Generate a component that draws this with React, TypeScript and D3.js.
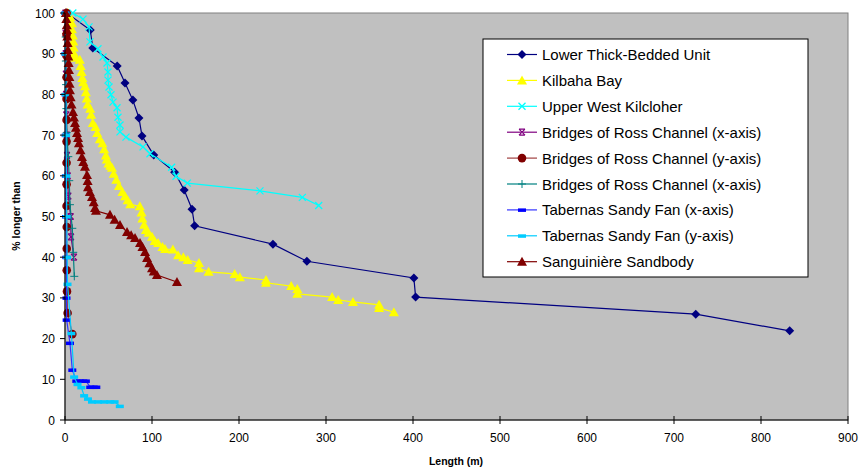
import * as d3 from 'd3';

type Pt = [number, number];

// values (length m, % longer than)
const lowerThick: Pt[] = [[2,100],[29,95.8],[32,91.4],[60,87],[69,82.8],[78,78.6],[85,74.2],[88.5,69.8],[102,65.1],[126,60.9],[137,56.5],[146,51.8],[149,47.7],[239,43.2],[278,39],[401,34.9],[403,30.2],[725,26],[833,21.9]];

const kilbaha: Pt[] = [[3,100],[6,99],[8,97.5],[8,96],[9,94.5],[9.5,93],[10,91.5],[10.5,90],[11,89],[17,88.5],[18,87],[19,85.5],[20,84],[21,83],[23,82],[24,80.5],[25,79],[26,77.5],[29,76.5],[30,75],[32,73],[35,72],[37,70.5],[40,69],[43,68],[45,66.5],[47,65],[48,64],[50,63],[52,62.5],[54,62],[56,60.5],[59,59],[62,57.5],[66,56],[69,55],[72,54],[75,53],[86,52.5],[88,51],[89,49.5],[91,48],[93,46.7],[96,46],[100,45],[103,44],[107,43.5],[112,42.5],[115,42],[124,41.9],[130,40.5],[136,40],[141,39.3],[154,38.6],[154,37.3],[165,36.4],[195,35.9],[201,35.1],[231,34.4],[231,33.7],[260,32.9],[267,32.2],[267,31],[307,30.2],[314,29.5],[331,29],[361,28.3],[361,27.5],[378,26.5]];

const upperWest: Pt[] = [[9,100],[20.7,98.5],[27.6,96.6],[28.7,92.9],[37.9,91.2],[43.7,89.2],[48.3,87.7],[49.4,85.5],[49.4,83.5],[50.6,81.8],[52.9,79.9],[55.2,78.1],[59.8,76.7],[60.9,74.4],[63.2,72.5],[63.2,70.8],[70.1,69.5],[89.7,67.1],[97.7,65.4],[122.6,62.1],[127.6,59.9],[140.6,58.2],[224.1,56.3],[272.8,54.7],[291.6,52.7]];

const bridgesX1: Pt[] = [[0.5,100],[0.7,95],[0.8,90],[1,85],[1.2,80],[1.5,75],[2,70],[2.3,65],[3.1,60],[3.8,55],[6.5,50],[6.9,45],[10.3,40]];

const bridgesY: Pt[] = [[1.8,100],[1.8,94.7],[1.8,89.5],[1.8,84.2],[1.8,78.9],[1.8,73.7],[1.8,68.4],[1.8,63.2],[1.8,57.9],[1.8,52.6],[2,47.4],[2,42.1],[2,36.8],[2.3,31.6],[3,26.3],[8.4,21.1]];

const bridgesX2: Pt[] = [[0.5,100],[0.8,94.1],[1,88.2],[1.3,82.4],[1.6,76.5],[2,70.6],[3.8,64.7],[4.9,58.8],[5.7,52.9],[8.4,47.1],[9.5,41.2],[10.7,35.3]];

const tabernasX: Pt[] = [[0.3,100],[0.5,90],[0.7,80],[0.8,70],[1,60],[1.2,50],[1.5,40],[1.7,30],[1.9,24.6],[5.7,18.9],[8.4,12.3],[13,9.6],[17,9.6],[21,9.6],[24,9.6],[29,8.1],[33,8.1],[36,8.1]];

const tabernasY: Pt[] = [[0.5,100],[0.8,90],[1,80],[1.3,70],[1.6,60],[2,50],[2.5,40],[2.9,33.4],[7.3,21.3],[10.5,10.6],[14.4,8.8],[18.8,8],[22,6],[26.4,5.2],[31,4.5],[38,4.5],[45,4.5],[52,4.5],[57,4.5],[63,3.4]];

const sanguiniere: Pt[] = [[1,100],[1.5,98.5],[2,97],[2.3,95.8],[2.6,94.2],[3,92.6],[3.4,90.9],[3.8,89.3],[4.2,87.7],[4.6,86],[5,84.3],[5.3,82.6],[5.7,81],[6.5,79.3],[7.5,77.5],[9.2,75.7],[10.3,74.3],[11.5,73],[12.6,71.8],[13.8,70.5],[15,69.3],[16,68],[17.8,66.3],[19.5,64.6],[21,63.4],[23,62.2],[25.3,60.2],[26,58.7],[26.4,57.2],[28.5,56],[31,54.8],[33,53.5],[34.5,52.1],[35.6,51.4],[51.7,50.4],[57,49.2],[63.2,47.9],[71.3,46.2],[76,45.4],[80.5,44.7],[86.2,43.5],[89,42.5],[92,41.3],[94.3,39.8],[97,38.5],[100,37.3],[102,36.5],[105.7,35.6],[128.7,33.9]];

const xTicks = [0, 100, 200, 300, 400, 500, 600, 700, 800, 900];
const yTicks = [0, 10, 20, 30, 40, 50, 60, 70, 80, 90, 100];

type Series = { name: string; data: Pt[]; line: string; mark: string; shape: string };
const series: Series[] = [
  { name: 'Lower Thick-Bedded Unit', data: lowerThick, line: '#000080', mark: '#000080', shape: 'diamond' },
  { name: 'Kilbaha Bay', data: kilbaha, line: '#FFFF00', mark: '#FFFF00', shape: 'triangle' },
  { name: 'Upper West Kilcloher', data: upperWest, line: '#00FFFF', mark: '#00FFFF', shape: 'x' },
  { name: 'Bridges of Ross Channel (x-axis)', data: bridgesX1, line: '#800080', mark: '#800080', shape: 'star' },
  { name: 'Bridges of Ross Channel (y-axis)', data: bridgesY, line: '#A04040', mark: '#800000', shape: 'circle' },
  { name: 'Bridges of Ross Channel (x-axis)', data: bridgesX2, line: '#008080', mark: '#008080', shape: 'plus' },
  { name: 'Tabernas Sandy Fan (x-axis)', data: tabernasX, line: '#3333FF', mark: '#0000FF', shape: 'dash' },
  { name: 'Tabernas Sandy Fan (y-axis)', data: tabernasY, line: '#00CCFF', mark: '#00CCFF', shape: 'dash' },
  { name: 'Sanguinière Sandbody', data: sanguiniere, line: '#800000', mark: '#800000', shape: 'triangle' },
];

const x = d3.scaleLinear().domain([0, 900]).range([65, 848]);
const y = d3.scaleLinear().domain([0, 100]).range([420, 13]);
const line = d3.line<Pt>().x(d => x(d[0])).y(d => y(d[1]));

function Marker({ shape, color, cx, cy }: { shape: string; color: string; cx: number; cy: number }) {
  switch (shape) {
    case 'diamond':
      return <polygon points={`${cx},${cy - 4.5} ${cx + 4.5},${cy} ${cx},${cy + 4.5} ${cx - 4.5},${cy}`} fill={color} />;
    case 'triangle':
      return <polygon points={`${cx},${cy - 5} ${cx + 5},${cy + 4} ${cx - 5},${cy + 4}`} fill={color} />;
    case 'x':
      return <path d={`M${cx - 3.5},${cy - 3.5}L${cx + 3.5},${cy + 3.5}M${cx - 3.5},${cy + 3.5}L${cx + 3.5},${cy - 3.5}`} stroke={color} strokeWidth={1.3} />;
    case 'star':
      return <path d={`M${cx - 3},${cy - 3}L${cx + 3},${cy + 3}M${cx - 3},${cy + 3}L${cx + 3},${cy - 3}M${cx - 3},${cy - 3}L${cx + 3},${cy - 3}M${cx - 3},${cy + 3}L${cx + 3},${cy + 3}`} stroke={color} strokeWidth={1.2} />;
    case 'circle':
      return <circle cx={cx} cy={cy} r={4.3} fill={color} />;
    case 'plus':
      return <path d={`M${cx - 4},${cy}L${cx + 4},${cy}M${cx},${cy - 4}L${cx},${cy + 4}`} stroke={color} strokeWidth={1} />;
    case 'dash':
      return <rect x={cx - 4} y={cy - 1.5} width={8} height={3.5} fill={color} />;
    default:
      return null;
  }
}

export default function App() {
  const font = '"Liberation Sans", Arial, sans-serif';
  const legendX = 483, legendY = 39;
  return (
    <svg width={860} height={470} style={{ position: 'absolute', left: 0, top: 0, background: '#fff' }} fontFamily={font}>
      <rect x={65} y={13} width={783} height={407} fill="#C0C0C0" stroke="#808080" strokeWidth={1} />

      {series.map((s, i) => (
        <g key={i}>
          <path d={line(s.data) ?? ''} fill="none" stroke={s.line} strokeWidth={1.2} />
          {s.data.map((d, j) => (
            <Marker key={j} shape={s.shape} color={s.mark} cx={x(d[0])} cy={y(d[1])} />
          ))}
        </g>
      ))}

      {/* axes */}
      <line x1={65} x2={65} y1={13} y2={420} stroke="#000" />
      <line x1={65} x2={848} y1={420} y2={420} stroke="#000" />
      {yTicks.map(t => (
        <g key={t}>
          <line x1={60} x2={65} y1={y(t)} y2={y(t)} stroke="#000" />
          <text x={55} y={y(t) + 4.5} textAnchor="end" fontSize={12}>{t}</text>
        </g>
      ))}
      {xTicks.map(t => (
        <g key={t}>
          <line x1={x(t)} x2={x(t)} y1={416} y2={424} stroke="#000" />
          <text x={x(t)} y={442} textAnchor="middle" fontSize={12}>{t}</text>
        </g>
      ))}
      <text x={456} y={465} textAnchor="middle" fontSize={10.5} fontWeight="bold">Length (m)</text>
      <text transform="translate(20,216) rotate(-90)" textAnchor="middle" fontSize={10.5} fontWeight="bold">% longer than</text>

      {/* legend */}
      <rect x={legendX} y={legendY} width={325} height={238} fill="#fff" stroke="#000" />
      {series.map((s, i) => {
        const cy = 54.5 + i * 25.9;
        return (
          <g key={i}>
            <line x1={507} x2={537} y1={cy} y2={cy} stroke={s.line} strokeWidth={1.2} />
            <Marker shape={s.shape} color={s.mark} cx={522} cy={cy} />
            <text x={542} y={cy + 5.5} fontSize={15} fill="#000">{s.name}</text>
          </g>
        );
      })}
    </svg>
  );
}
